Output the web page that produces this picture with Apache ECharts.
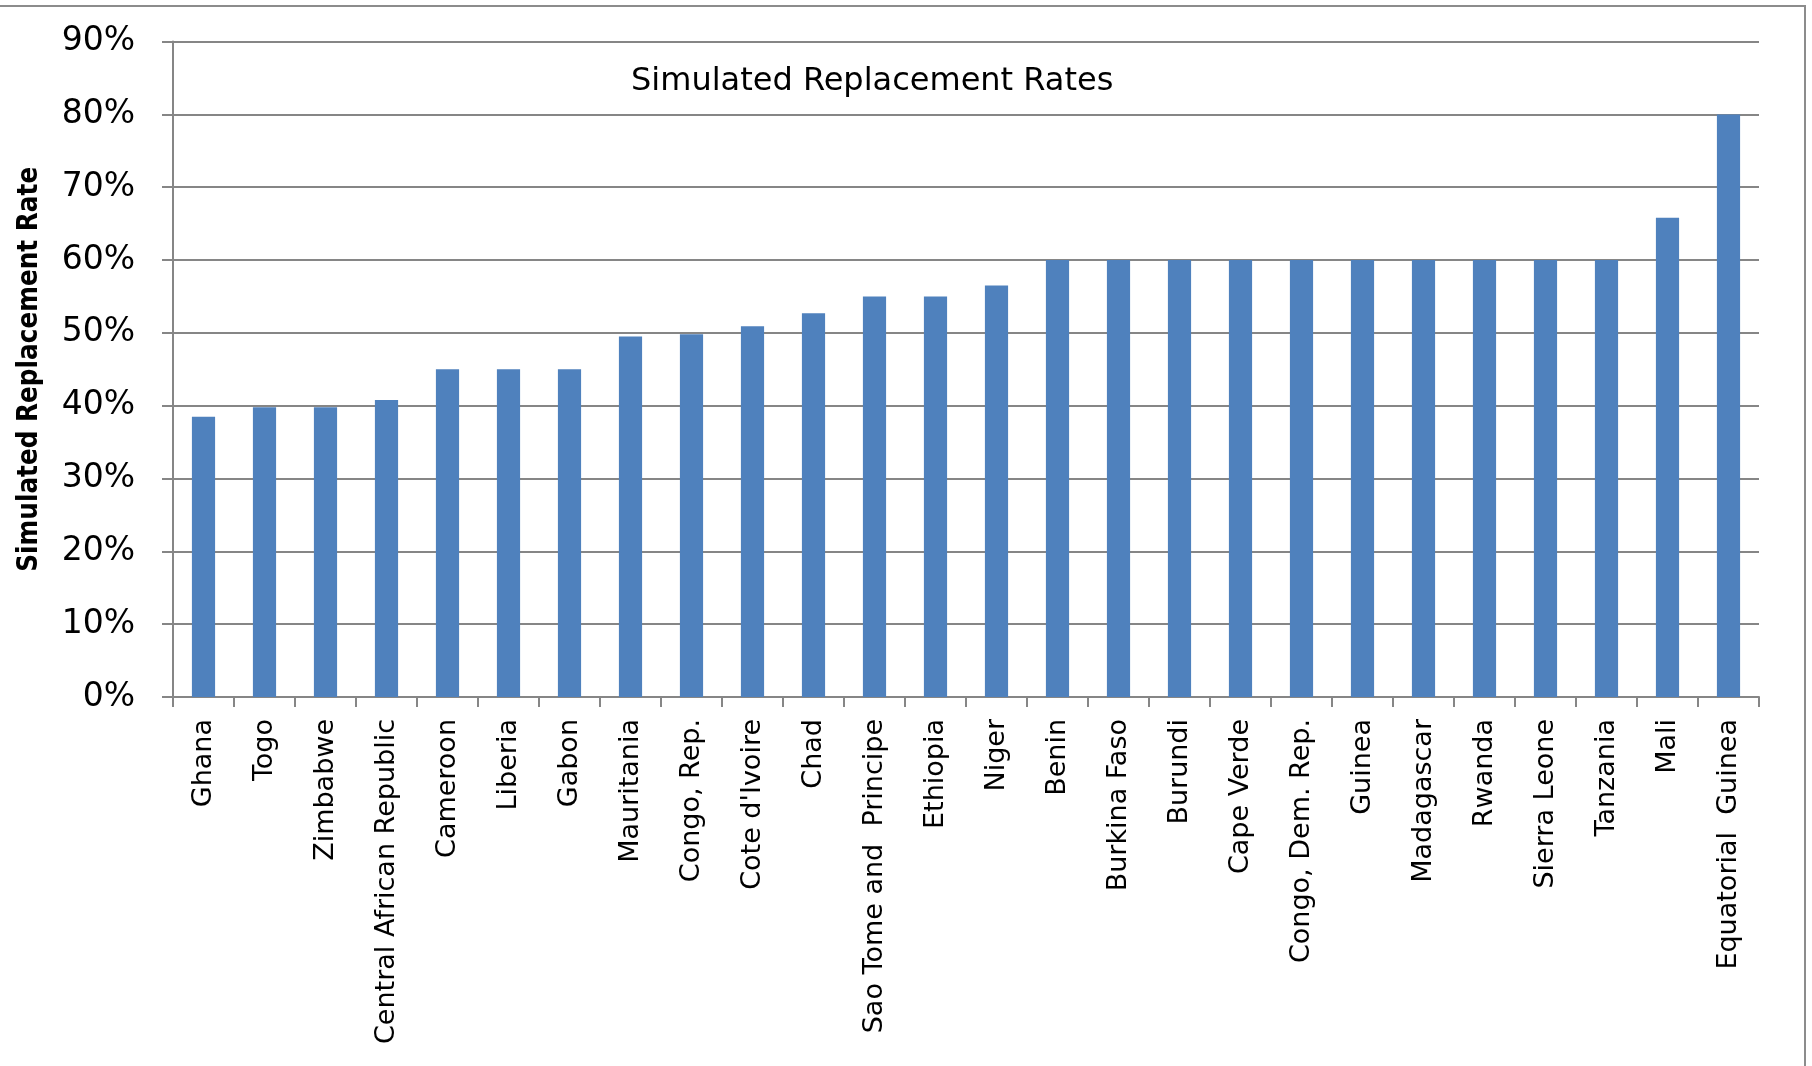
<!DOCTYPE html>
<html>
<head>
<meta charset="utf-8">
<script src="https://cdn.jsdelivr.net/npm/echarts@6/dist/echarts.min.js"></script>
<style>
  html, body { margin: 0; padding: 0; background: #fff; }
  #chart { width: 1812px; height: 1066px; }
</style>
</head>
<body>
<div id="chart"></div>
<script>
// countries, sorted by simulated replacement rate
const countries = [
  'Ghana', 'Togo', 'Zimbabwe', 'Central African Republic', 'Cameroon', 'Liberia',
  'Gabon', 'Mauritania', 'Congo, Rep.', "Cote d'Ivoire", 'Chad', 'Sao Tome and  Principe',
  'Ethiopia', 'Niger', 'Benin', 'Burkina Faso', 'Burundi', 'Cape Verde',
  'Congo, Dem. Rep.', 'Guinea', 'Madagascar', 'Rwanda', 'Sierra Leone', 'Tanzania',
  'Mali', 'Equatorial  Guinea'
]
// percent
const rates = [
  38.5, 39.8, 39.8, 40.8, 45, 45,
  45, 49.5, 49.8, 50.9, 52.7, 55,
  55, 56.5, 60, 60, 60, 60,
  60, 60, 60, 60, 60, 60,
  65.8, 80
]
const yTicks = [0, 10, 20, 30, 40, 50, 60, 70, 80, 90]

const chart = echarts.init(document.getElementById('chart'))
chart.setOption({
  animation: false,
  title: {
    text: 'Simulated Replacement Rates',
    left: 626,
    top: 61,
    textStyle: {
      fontFamily: 'DejaVu Sans',
      fontSize: 32,
      fontWeight: 'normal',
      color: '#000'
    }
  },
  graphic: [
    {
      type: 'rect',
      shape: { x: -4, y: 6, width: 1809, height: 1080 },
      style: { fill: 'none', stroke: '#8c8c8c', lineWidth: 2 },
      silent: true
    }
  ],
  grid: {
    left: 173,
    right: 53,
    top: 41.6,
    bottom: 369
  },
  xAxis: {
    type: 'category',
    data: countries,
    // 刻度在类目之间
    axisLine: { lineStyle: { color: '#868686', width: 2 } },
    axisTick: { show: true, length: 10, lineStyle: { color: '#868686', width: 2 } },
    axisLabel: {
      interval: 0,
      rotate: 90,
      margin: 22,
      color: '#000',
      fontFamily: 'DejaVu Sans',
      fontSize: 27
    }
  },
  yAxis: {
    type: 'value',
    min: yTicks[0],
    max: yTicks[yTicks.length - 1],
    interval: 10,
    name: 'Simulated Replacement Rate',
    nameLocation: 'middle',
    nameGap: 129,
    nameTextStyle: {
      fontFamily: 'DejaVu Sans Condensed',
      fontWeight: 'bold',
      fontSize: 27.5,
      color: '#000'
    },
    axisLine: { show: true, lineStyle: { color: '#868686', width: 2 } },
    axisTick: { show: true, length: 11, lineStyle: { color: '#868686', width: 2 } },
    axisLabel: {
      margin: 38,
      color: '#000',
      fontFamily: 'DejaVu Sans',
      fontSize: 33,
      formatter: '{value}%'
    },
    splitLine: { lineStyle: { color: '#868686', width: 2 } }
  },
  series: [
    {
      name: 'Simulated Replacement Rate',
      type: 'bar',
      data: rates,
      barWidth: '38%',
      itemStyle: { color: '#4F81BD' }
    }
  ]
})
</script>
</body>
</html>
